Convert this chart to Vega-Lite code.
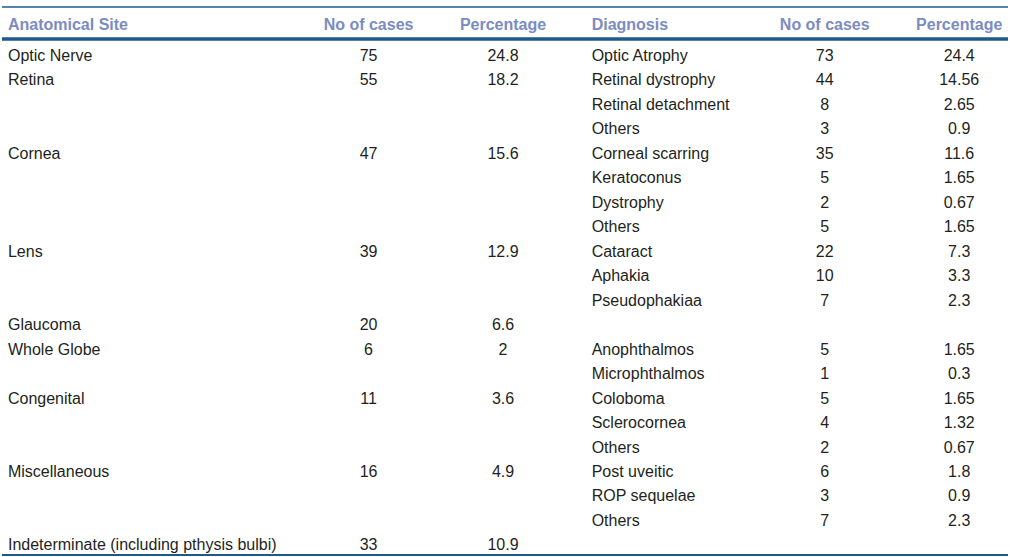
{
  "$schema": "https://vega.github.io/schema/vega-lite/v6.json",
  "width": 1010,
  "height": 557,
  "padding": 0,
  "autosize": {"type": "fit", "contains": "padding"},
  "background": "white",
  "config": {"view": {"stroke": null}, "text": {"font": "Liberation Sans", "fontSize": 16, "color": "#231f20", "baseline": "alphabetic"}},
  "data": {"values": [
    {"row": 0, "site": "Optic Nerve", "n1": "75", "p1": "24.8", "diag": "Optic Atrophy", "n2": "73", "p2": "24.4"},
    {"row": 1, "site": "Retina", "n1": "55", "p1": "18.2", "diag": "Retinal dystrophy", "n2": "44", "p2": "14.56"},
    {"row": 2, "site": "", "n1": "", "p1": "", "diag": "Retinal detachment", "n2": "8", "p2": "2.65"},
    {"row": 3, "site": "", "n1": "", "p1": "", "diag": "Others", "n2": "3", "p2": "0.9"},
    {"row": 4, "site": "Cornea", "n1": "47", "p1": "15.6", "diag": "Corneal scarring", "n2": "35", "p2": "11.6"},
    {"row": 5, "site": "", "n1": "", "p1": "", "diag": "Keratoconus", "n2": "5", "p2": "1.65"},
    {"row": 6, "site": "", "n1": "", "p1": "", "diag": "Dystrophy", "n2": "2", "p2": "0.67"},
    {"row": 7, "site": "", "n1": "", "p1": "", "diag": "Others", "n2": "5", "p2": "1.65"},
    {"row": 8, "site": "Lens", "n1": "39", "p1": "12.9", "diag": "Cataract", "n2": "22", "p2": "7.3"},
    {"row": 9, "site": "", "n1": "", "p1": "", "diag": "Aphakia", "n2": "10", "p2": "3.3"},
    {"row": 10, "site": "", "n1": "", "p1": "", "diag": "Pseudophakiaa", "n2": "7", "p2": "2.3"},
    {"row": 11, "site": "Glaucoma", "n1": "20", "p1": "6.6", "diag": "", "n2": "", "p2": ""},
    {"row": 12, "site": "Whole Globe", "n1": "6", "p1": "2", "diag": "Anophthalmos", "n2": "5", "p2": "1.65"},
    {"row": 13, "site": "", "n1": "", "p1": "", "diag": "Microphthalmos", "n2": "1", "p2": "0.3"},
    {"row": 14, "site": "Congenital", "n1": "11", "p1": "3.6", "diag": "Coloboma", "n2": "5", "p2": "1.65"},
    {"row": 15, "site": "", "n1": "", "p1": "", "diag": "Sclerocornea", "n2": "4", "p2": "1.32"},
    {"row": 16, "site": "", "n1": "", "p1": "", "diag": "Others", "n2": "2", "p2": "0.67"},
    {"row": 17, "site": "Miscellaneous", "n1": "16", "p1": "4.9", "diag": "Post uveitic", "n2": "6", "p2": "1.8"},
    {"row": 18, "site": "", "n1": "", "p1": "", "diag": "ROP sequelae", "n2": "3", "p2": "0.9"},
    {"row": 19, "site": "", "n1": "", "p1": "", "diag": "Others", "n2": "7", "p2": "2.3"},
    {"row": 20, "site": "Indeterminate (including pthysis bulbi)", "n1": "33", "p1": "10.9", "diag": "", "n2": "", "p2": ""}
  ]},
  "layer": [
    {"mark": {"type": "text", "align": "left"}, "encoding": {
      "x": {"datum": 6, "type": "quantitative", "scale": {"domain": [0, 1010], "nice": false, "zero": false}, "axis": null},
      "y": {"field": "row", "type": "quantitative", "scale": {"domain": [-2.4928, 20.27], "reverse": true, "nice": false, "zero": false}, "axis": null},
      "text": {"field": "site", "type": "nominal"}}},
    {"mark": {"type": "text", "align": "center"}, "encoding": {"x": {"datum": 368, "type": "quantitative"}, "y": {"field": "row", "type": "quantitative"}, "text": {"field": "n1", "type": "nominal"}}},
    {"mark": {"type": "text", "align": "center"}, "encoding": {"x": {"datum": 503, "type": "quantitative"}, "y": {"field": "row", "type": "quantitative"}, "text": {"field": "p1", "type": "nominal"}}},
    {"mark": {"type": "text", "align": "left"}, "encoding": {"x": {"datum": 592, "type": "quantitative"}, "y": {"field": "row", "type": "quantitative"}, "text": {"field": "diag", "type": "nominal"}}},
    {"mark": {"type": "text", "align": "center"}, "encoding": {"x": {"datum": 826, "type": "quantitative"}, "y": {"field": "row", "type": "quantitative"}, "text": {"field": "n2", "type": "nominal"}}},
    {"mark": {"type": "text", "align": "center"}, "encoding": {"x": {"datum": 961, "type": "quantitative"}, "y": {"field": "row", "type": "quantitative"}, "text": {"field": "p2", "type": "nominal"}}},
    {
      "data": {"values": [{"h": "Anatomical Site", "c": 6, "lv": -1.279}, {"h": "Diagnosis", "c": 592, "lv": -1.279}]},
      "mark": {"type": "text", "align": "left", "fontWeight": "bold", "color": "#7b8cc2"},
      "encoding": {"x": {"field": "c", "type": "quantitative"}, "y": {"field": "lv", "type": "quantitative"}, "text": {"field": "h", "type": "nominal"}}
    },
    {
      "data": {"values": [{"h": "No of cases", "c": 368, "lv": -1.279}, {"h": "Percentage", "c": 503, "lv": -1.279}, {"h": "No of cases", "c": 826, "lv": -1.279}, {"h": "Percentage", "c": 961, "lv": -1.279}]},
      "mark": {"type": "text", "align": "center", "fontWeight": "bold", "color": "#7b8cc2"},
      "encoding": {"x": {"field": "c", "type": "quantitative"}, "y": {"field": "lv", "type": "quantitative"}, "text": {"field": "h", "type": "nominal"}}
    },
    {
      "data": {"values": [{"lv": -2.2068}]},
      "mark": {"type": "rule", "color": "#1d5a8a", "strokeWidth": 1.5},
      "encoding": {"y": {"field": "lv", "type": "quantitative"}}
    },
    {
      "data": {"values": [{"lv": -0.899}]},
      "mark": {"type": "rule", "color": "#1d5a8a", "strokeWidth": 3.3},
      "encoding": {"y": {"field": "lv", "type": "quantitative"}}
    },
    {
      "data": {"values": [{"lv": 20.188}]},
      "mark": {"type": "rule", "color": "#1d5a8a", "strokeWidth": 2},
      "encoding": {"y": {"field": "lv", "type": "quantitative"}}
    }
  ]
}
